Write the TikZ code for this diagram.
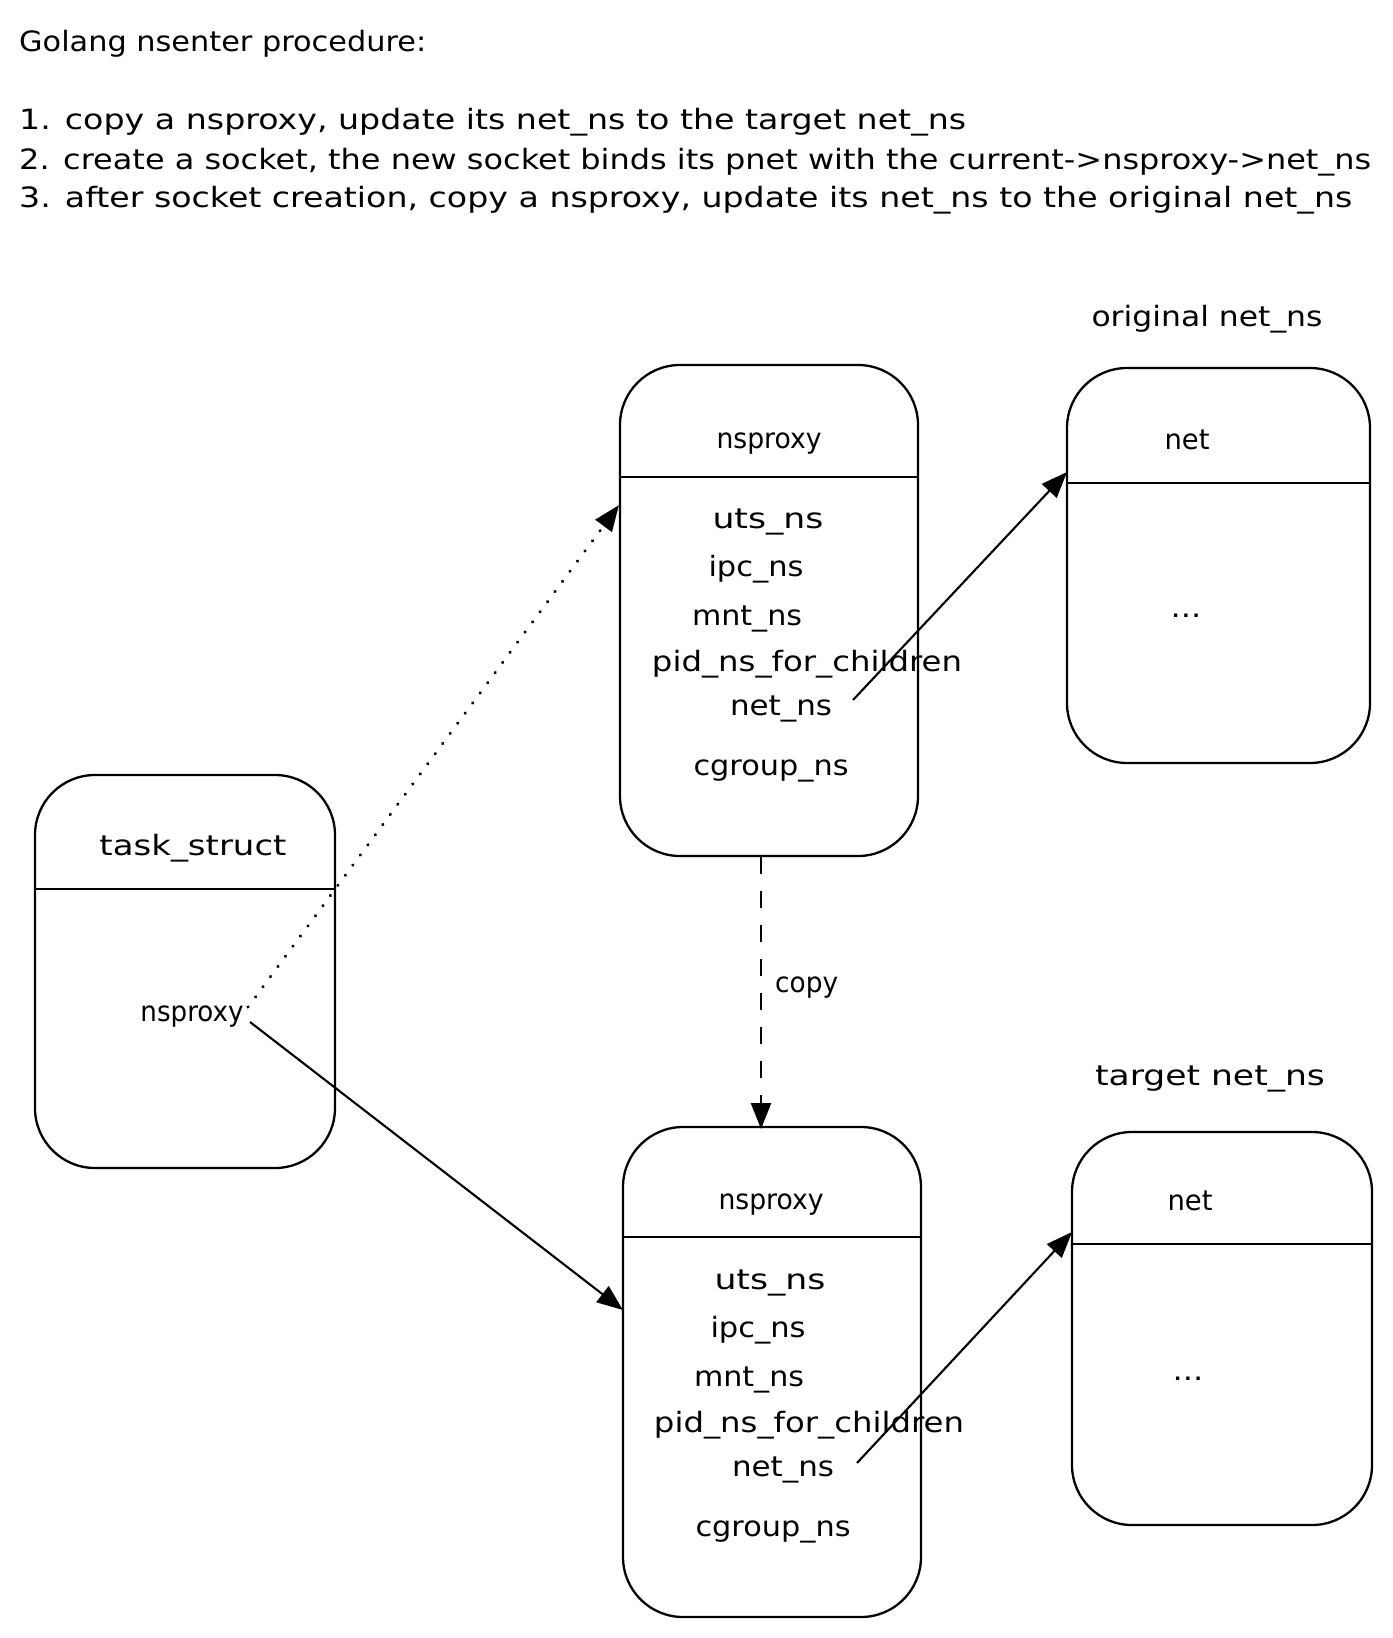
\documentclass[tikz,border=0pt]{standalone}
\usepackage{fontspec}
\usepackage{graphicx}
\setmainfont[FakeStretch=1.15]{DejaVu Sans}
\usetikzlibrary{arrows.meta}
\newcommand{\fitw}[2]{\resizebox{#1pt}{\height}{#2}}
\begin{document}
\begin{tikzpicture}[x=1pt,y=-1pt,
  boxshape/.style={draw, line width=2.3pt, rounded corners=60pt, inner sep=0pt, outer sep=0pt},
  divider/.style={line width=2.3pt},
  lbl/.style={font=\fontsize{28}{34}\selectfont, inner sep=0pt, anchor=base},
  hdr/.style={font=\fontsize{28}{34}\selectfont, inner sep=0pt, anchor=base west},
  conn/.style={line width=2.1pt, -{Triangle[length=26pt,width=20pt]}},
  dotconn/.style={conn, line width=3.4pt, line cap=round, dash pattern=on 0.1pt off 12.5pt},
  dashconn/.style={conn, line width=2.4pt, dash pattern=on 17pt off 17pt}
]
\useasboundingbox (0,0) rectangle (1392,1638);
\fill[white] (0,0) rectangle (1392,1638);

% header text
\node[hdr] (title) at (19,51) {\fitw{407}{Golang nsenter procedure:}};
\node[hdr] (step1) at (19,129) {\fitw{947}{1. copy a nsproxy, update its net\_ns to the target net\_ns}};
\node[hdr] (step2) at (19,169) {\fitw{1352}{2. create a socket, the new socket binds its pnet with the current->nsproxy->net\_ns}};
\node[hdr] (step3) at (19,207) {\fitw{1333}{3. after socket creation, copy a nsproxy, update its net\_ns to the original net\_ns}};

% task_struct box
\node[boxshape, minimum width=300pt, minimum height=393pt] (task) at (185,971.5) {};
\draw[divider] (task.west |- 0,889) -- (task.east |- 0,889);
\node[lbl] (tasktitle) at (193,855) {\fitw{187}{task\_struct}};
\node[lbl] (tasknsp) at (192,1021) {\fitw{103}{nsproxy}};

% top nsproxy box
\node[boxshape, minimum width=298pt, minimum height=491pt] (npa) at (769,610.5) {};
\draw[divider] (npa.west |- 0,477) -- (npa.east |- 0,477);
\node[lbl] (npatitle) at (769,448) {\fitw{105}{nsproxy}};
\node[lbl] (npauts) at (768,528) {\fitw{111}{uts\_ns}};
\node[lbl] (npaipc) at (756,576) {\fitw{95}{ipc\_ns}};
\node[lbl] (npamnt) at (747,625) {\fitw{110}{mnt\_ns}};
\node[lbl] (npapid) at (807,671) {\fitw{310}{pid\_ns\_for\_children}};
\node[lbl] (npanet) at (781,715) {\fitw{102}{net\_ns}};
\node[lbl] (npacg) at (771,775) {\fitw{155}{cgroup\_ns}};

% bottom nsproxy box
\node[boxshape, minimum width=298pt, minimum height=490pt] (npb) at (772,1372) {};
\draw[divider] (npb.west |- 0,1237) -- (npb.east |- 0,1237);
\node[lbl] (npbtitle) at (771,1209) {\fitw{105}{nsproxy}};
\node[lbl] (npbuts) at (770,1289) {\fitw{111}{uts\_ns}};
\node[lbl] (npbipc) at (758,1337) {\fitw{95}{ipc\_ns}};
\node[lbl] (npbmnt) at (749,1386) {\fitw{110}{mnt\_ns}};
\node[lbl] (npbpid) at (809,1432) {\fitw{310}{pid\_ns\_for\_children}};
\node[lbl] (npbnet) at (783,1476) {\fitw{102}{net\_ns}};
\node[lbl] (npbcg) at (773,1536) {\fitw{155}{cgroup\_ns}};

% original net_ns box
\node[lbl] (origlbl) at (1207,326) {\fitw{231}{original net\_ns}};
\node[boxshape, minimum width=303pt, minimum height=395pt] (orig) at (1218.5,565.5) {};
\draw[divider] (orig.west |- 0,483) -- (orig.east |- 0,483);
\node[lbl] (orignet) at (1187,449) {\fitw{45}{net}};
\node[lbl] (origdots) at (1186,617) {...};

% target net_ns box
\node[lbl] (targlbl) at (1210,1085) {\fitw{230}{target net\_ns}};
\node[boxshape, minimum width=300pt, minimum height=393pt] (targ) at (1222,1328.5) {};
\draw[divider] (targ.west |- 0,1244) -- (targ.east |- 0,1244);
\node[lbl] (targnet) at (1190,1210) {\fitw{45}{net}};
\node[lbl] (targdots) at (1188,1380) {...};

% connector end points
\coordinate (dotS) at (248,1007);
\coordinate (dotE) at (619,505);
\coordinate (solS) at (250,1022);
\coordinate (solE) at (623,1310);
\coordinate (cpS) at (761,857);
\coordinate (cpE) at (761,1129);
\coordinate (naS) at (853,700);
\coordinate (naE) at (1067,472);
\coordinate (nbS) at (857,1463);
\coordinate (nbE) at (1072,1232);

% connectors
\draw[dotconn] (dotS) -- (dotE);
\draw[conn] (solS) -- (solE);
\draw[dashconn] (cpS) -- (cpE);
\node[lbl, anchor=base west] (copylbl) at (775,992) {\fitw{63}{copy}};
\draw[conn] (naS) -- (naE);
\draw[conn] (nbS) -- (nbE);
\end{tikzpicture}
\end{document}
